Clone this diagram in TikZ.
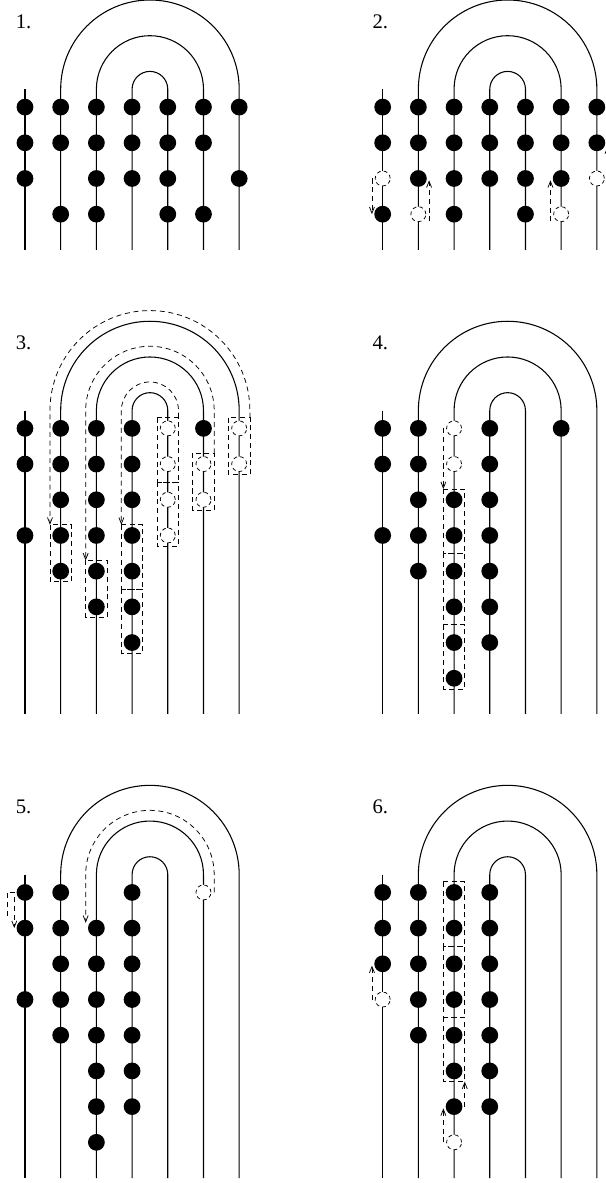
\documentclass[tikz,border=0pt]{standalone}
\usepackage{fontspec}
\setmainfont{Liberation Serif}
\usetikzlibrary{arrows.meta}

\tikzset{
  bead/.style={fill=black},
  hole/.style={draw, fill=white, line width=0.6pt, dash pattern=on 3pt off 2.5pt},
  route/.style={line width=0.6pt, dash pattern=on 4pt off 3pt, ->},
  block/.style={line width=0.6pt, dash pattern=on 4pt off 3pt},
  tag/.style={anchor=west, inner sep=0pt, font=\fontsize{16.5}{20}\selectfont}
}

% the seven tracks of one panel, down to row #1
\newcommand{\tracks}[1]{%
  \draw (0,0.5) -- (0,-#1);
  \draw (1,-#1) -- (1,0.5) arc[start angle=180, end angle=0, radius=2.5] -- (6,-#1);
  \draw (2,-#1) -- (2,0.5) arc[start angle=180, end angle=0, radius=1.5] -- (5,-#1);
  \draw (3,-#1) -- (3,0.5) arc[start angle=180, end angle=0, radius=0.5] -- (4,-#1);
}
\newcommand{\beads}[1]{\foreach \c/\r in {#1} {\fill[bead] (\c,-\r) circle (0.235);}}
\newcommand{\holes}[1]{\foreach \c/\r in {#1} {\draw[hole] (\c,-\r) circle (0.21);}}

\begin{document}
\begin{tikzpicture}[line width=0.85pt, >={Straight Barb[length=5pt,width=4pt]}]
  \useasboundingbox (0,0) rectangle (16.97,-33.14);

  % panel 1
  \begin{scope}[shift={(0.7,-3)}]
    \node[tag] (lab1) at (-0.27,2.4) {1.};
    \tracks{4}
    \beads{0/0,1/0,2/0,3/0,4/0,5/0,6/0,
           0/1,1/1,2/1,3/1,4/1,5/1,
           0/2,2/2,3/2,4/2,6/2,
           1/3,2/3,4/3,5/3}
  \end{scope}

  % panel 2
  \begin{scope}[shift={(10.72,-3)}]
    \node[tag] (lab2) at (-0.3,2.4) {2.};
    \tracks{4}
    \holes{0/2,6/2,1/3,5/3}
    \beads{0/0,1/0,2/0,3/0,4/0,5/0,6/0,
           0/1,1/1,2/1,3/1,4/1,5/1,6/1,
           1/2,2/2,3/2,4/2,5/2,
           0/3,2/3,4/3}
    \draw[route] (-0.3,-2) -- (-0.3,-3);
    \draw[route] (1.3,-3.2) -- (1.3,-2.05);
    \draw[route] (4.7,-3.2) -- (4.7,-2.05);
    \draw[route] (6.3,-2.2) -- (6.3,-1.1);
  \end{scope}

  % panel 3
  \begin{scope}[shift={(0.7,-12)}]
    \node[tag] (lab3) at (-0.27,2.4) {3.};
    \tracks{8}
    \draw[block] (3.7,0.3) rectangle (4.3,-1.5);
    \draw[block] (3.7,-1.5) rectangle (4.3,-3.3);
    \draw[block] (4.7,-0.7) rectangle (5.3,-2.3);
    \draw[block] (5.7,0.3) rectangle (6.3,-1.3);
    \draw[block] (0.7,-2.7) rectangle (1.3,-4.3);
    \draw[block] (1.7,-3.7) rectangle (2.3,-5.3);
    \draw[block] (2.7,-2.7) rectangle (3.3,-4.5);
    \draw[block] (2.7,-4.5) rectangle (3.3,-6.3);
    \holes{4/0,4/1,4/2,4/3,5/1,5/2,6/0,6/1}
    \beads{0/0,0/1,0/3,
           1/0,1/1,1/2,1/3,1/4,
           2/0,2/1,2/2,2/3,2/4,2/5,
           3/0,3/1,3/2,3/3,3/4,3/5,3/6,
           5/0}
    \draw[route] (4.3,0.3) -- (4.3,0.5) arc[start angle=0, end angle=180, radius=0.8] -- (2.7,-2.7);
    \draw[route] (5.3,-0.7) -- (5.3,0.5) arc[start angle=0, end angle=180, radius=1.8] -- (1.7,-3.7);
    \draw[route] (6.3,0.3) -- (6.3,0.5) arc[start angle=0, end angle=180, radius=2.8] -- (0.7,-2.7);
  \end{scope}

  % panel 4
  \begin{scope}[shift={(10.72,-12)}]
    \node[tag] (lab4) at (-0.3,2.4) {4.};
    \tracks{8}
    \draw[block] (1.7,-1.7) rectangle (2.3,-3.5);
    \draw[block] (1.7,-3.5) rectangle (2.3,-5.5);
    \draw[block] (1.7,-5.5) rectangle (2.3,-7.3);
    \holes{2/0,2/1}
    \beads{0/0,0/1,0/3,
           1/0,1/1,1/2,1/3,1/4,
           2/2,2/3,2/4,2/5,2/6,2/7,
           3/0,3/1,3/2,3/3,3/4,3/5,3/6,
           5/0}
    \draw[route] (1.7,0) -- (1.7,-1.7);
  \end{scope}

  % panel 5
  \begin{scope}[shift={(0.7,-25)}]
    \node[tag] (lab5) at (-0.27,2.4) {5.};
    \tracks{8}
    \holes{5/0}
    \beads{0/0,0/1,0/3,
           1/0,1/1,1/2,1/3,1/4,
           2/1,2/2,2/3,2/4,2/5,2/6,2/7,
           3/0,3/1,3/2,3/3,3/4,3/5,3/6}
    \draw[route] (-0.5,-0.65) -- (-0.5,0) -- (-0.3,0) -- (-0.3,-1);
    \draw[route] (5.3,0) -- (5.3,0.5) arc[start angle=0, end angle=180, radius=1.8] -- (1.7,-0.85);
  \end{scope}

  % panel 6
  \begin{scope}[shift={(10.72,-25)}]
    \node[tag] (lab6) at (-0.3,2.4) {6.};
    \tracks{8}
    \draw[block] (1.7,0.3) rectangle (2.3,-1.5);
    \draw[block] (1.7,-1.5) rectangle (2.3,-3.5);
    \draw[block] (1.7,-3.5) rectangle (2.3,-5.3);
    \holes{0/3,2/7}
    \beads{0/0,0/1,0/2,
           1/0,1/1,1/2,1/3,1/4,
           2/0,2/1,2/2,2/3,2/4,2/5,2/6,
           3/0,3/1,3/2,3/3,3/4,3/5,3/6}
    \draw[route] (-0.3,-3) -- (-0.3,-2.05);
    \draw[route] (1.7,-7) -- (1.7,-6.05);
    \draw[route] (2.3,-6) -- (2.3,-5.3);
  \end{scope}
\end{tikzpicture}
\end{document}
